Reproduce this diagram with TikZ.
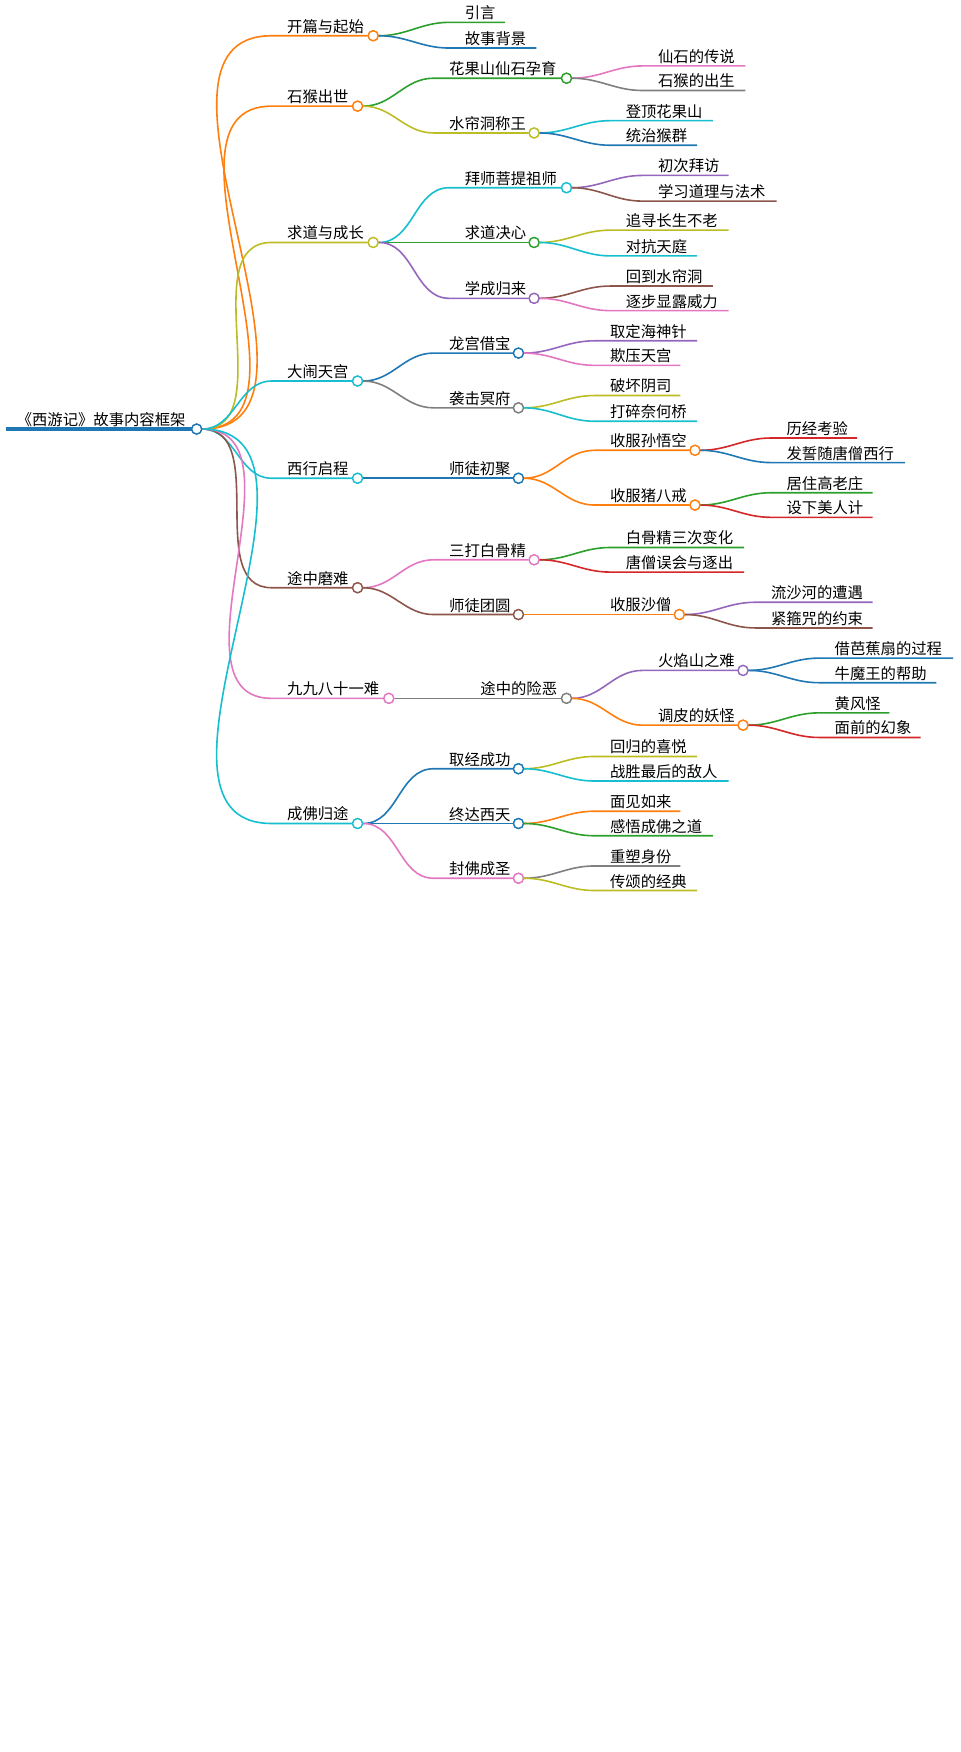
\documentclass[tikz,border=0pt]{standalone}
\usepackage{fontspec}
\setmainfont{Noto Sans CJK SC}
\definecolor{cOrange}{HTML}{FF7F0E}
\definecolor{cGreen}{HTML}{2CA02C}
\definecolor{cBlue}{HTML}{1F77B4}
\definecolor{cPink}{HTML}{E377C2}
\definecolor{cGray}{HTML}{7F7F7F}
\definecolor{cOlive}{HTML}{BCBD22}
\definecolor{cCyan}{HTML}{17BECF}
\definecolor{cPurple}{HTML}{9467BD}
\definecolor{cBrown}{HTML}{8C564B}
\definecolor{cRed}{HTML}{D62728}
\tikzset{
  mmlabel/.style = {anchor = south west, inner sep = 1.5pt, font = \fontsize{11.5}{13}\selectfont},
  mmedge/.style = {line width = 1.2pt},
  mmdot/.style = {circle, fill = white, line width = 1pt, minimum size = 7.5pt, inner sep = 0pt}
}
% #1 parent, #2 name, #3 colour, #4 text x, #5 y, #6 end x, #7 text
\newcommand{\mmleaf}[7]{%
  \coordinate (#2-s) at (#4-12, #5);
  \coordinate (#2) at (#6, #5);
  \node[mmlabel] (#2-t) at (#4, #5) {#7};
  \draw[mmedge, #3] (#1.east) to[out = 0, in = 180] (#2-s) -- (#2);
}
\newcommand{\mminner}[7]{%
  \coordinate (#2-s) at (#4-12, #5);
  \node[mmdot, draw = #3] (#2) at (#6, #5) {};
  \node[mmlabel] (#2-t) at (#4, #5) {#7};
  \draw[mmedge, #3] (#1.east) to[out = 0, in = 180] (#2-s) -- (#2.west);
  \node[mmdot, draw = #3] at (#2) {};
}
\begin{document}
\begin{tikzpicture}[x = 0.838pt, y = -0.838pt]
  \useasboundingbox (0, 0) rectangle (860, 1568);

  % root
  \draw[line width = 3pt, cBlue] (5, 384) -- (176, 384);
  \node[mmlabel] (root-t) at (13, 384) {《西游记》故事内容框架};
  \node[mmdot, draw = cBlue] (root) at (176, 384) {};

  % level 1
  \mminner{root}{a}{cOrange}{255}{32}{334}{开篇与起始}
  \mminner{root}{b}{cOrange}{255}{95}{320}{石猴出世}
  \mminner{root}{c}{cOlive}{255}{217}{334}{求道与成长}
  \mminner{root}{d}{cCyan}{255}{341}{320}{大闹天宫}
  \mminner{root}{e}{cCyan}{255}{428}{320}{西行启程}
  \mminner{root}{f}{cBrown}{255}{526}{320}{途中磨难}
  \mminner{root}{g}{cPink}{255}{625}{348}{九九八十一难}
  \mminner{root}{h}{cCyan}{255}{737}{320}{成佛归途}
  \node[mmdot, draw = cBlue] at (root) {};

  % 开篇与起始
  \mmleaf{a}{a1}{cGreen}{414}{20}{452}{引言}
  \mmleaf{a}{a2}{cBlue}{414}{43}{480}{故事背景}

  % 石猴出世
  \mminner{b}{b1}{cGreen}{400}{70}{507}{花果山仙石孕育}
  \mminner{b}{b2}{cOlive}{400}{119}{478}{水帘洞称王}
  \mmleaf{b1}{b11}{cPink}{587}{59}{667}{仙石的传说}
  \mmleaf{b1}{b12}{cGray}{587}{81}{667}{石猴的出生}
  \mmleaf{b2}{b21}{cCyan}{558}{108}{638}{登顶花果山}
  \mmleaf{b2}{b22}{cBlue}{558}{130}{624}{统治猴群}

  % 求道与成长
  \mminner{c}{c1}{cCyan}{414}{168}{507}{拜师菩提祖师}
  \mminner{c}{c2}{cGreen}{414}{217}{478}{求道决心}
  \mminner{c}{c3}{cPurple}{414}{267}{478}{学成归来}
  \mmleaf{c1}{c11}{cPurple}{587}{157}{652}{初次拜访}
  \mmleaf{c1}{c12}{cBrown}{587}{180}{695}{学习道理与法术}
  \mmleaf{c2}{c21}{cOlive}{558}{206}{652}{追寻长生不老}
  \mmleaf{c2}{c22}{cCyan}{558}{229}{624}{对抗天庭}
  \mmleaf{c3}{c31}{cBrown}{558}{256}{638}{回到水帘洞}
  \mmleaf{c3}{c32}{cPink}{558}{278}{652}{逐步显露威力}

  % 大闹天宫
  \mminner{d}{d1}{cBlue}{400}{316}{464}{龙宫借宝}
  \mminner{d}{d2}{cGray}{400}{365}{464}{袭击冥府}
  \mmleaf{d1}{d11}{cPurple}{544}{305}{624}{取定海神针}
  \mmleaf{d1}{d12}{cPink}{544}{327}{609}{欺压天宫}
  \mmleaf{d2}{d21}{cOlive}{544}{354}{609}{破坏阴司}
  \mmleaf{d2}{d22}{cCyan}{544}{377}{624}{打碎奈何桥}

  % 西行启程
  \mminner{e}{e1}{cBlue}{400}{428}{464}{师徒初聚}
  \mminner{e1}{e11}{cOrange}{544}{403}{622}{收服孙悟空}
  \mminner{e1}{e12}{cOrange}{544}{452}{622}{收服猪八戒}
  \mmleaf{e11}{e111}{cRed}{702}{392}{767}{历经考验}
  \mmleaf{e11}{e112}{cBlue}{702}{414}{810}{发誓随唐僧西行}
  \mmleaf{e12}{e121}{cGreen}{702}{441}{781}{居住高老庄}
  \mmleaf{e12}{e122}{cRed}{702}{463}{781}{设下美人计}

  % 途中磨难
  \mminner{f}{f1}{cPink}{400}{501}{478}{三打白骨精}
  \mminner{f}{f2}{cBrown}{400}{550}{464}{师徒团圆}
  \mmleaf{f1}{f11}{cGreen}{558}{490}{666}{白骨精三次变化}
  \mmleaf{f1}{f12}{cRed}{558}{512}{666}{唐僧误会与逐出}
  \mminner{f2}{f21}{cOrange}{544}{550}{608}{收服沙僧}
  \mmleaf{f21}{f211}{cPurple}{688}{539}{781}{流沙河的遭遇}
  \mmleaf{f21}{f212}{cBrown}{688}{562}{781}{紧箍咒的约束}

  % 九九八十一难
  \mminner{g}{g1}{cGray}{428}{625}{507}{途中的险恶}
  \mminner{g1}{g11}{cPurple}{587}{600}{665}{火焰山之难}
  \mminner{g1}{g12}{cOrange}{587}{649}{665}{调皮的妖怪}
  \mmleaf{g11}{g111}{cBlue}{745}{589}{853}{借芭蕉扇的过程}
  \mmleaf{g11}{g112}{cBlue}{745}{611}{838}{牛魔王的帮助}
  \mmleaf{g12}{g121}{cGreen}{745}{638}{796}{黄风怪}
  \mmleaf{g12}{g122}{cRed}{745}{660}{824}{面前的幻象}

  % 成佛归途
  \mminner{h}{h1}{cBlue}{400}{688}{464}{取经成功}
  \mminner{h}{h2}{cBlue}{400}{737}{464}{终达西天}
  \mminner{h}{h3}{cPink}{400}{786}{464}{封佛成圣}
  \mmleaf{h1}{h11}{cOlive}{544}{677}{624}{回归的喜悦}
  \mmleaf{h1}{h12}{cCyan}{544}{699}{652}{战胜最后的敌人}
  \mmleaf{h2}{h21}{cOrange}{544}{726}{609}{面见如来}
  \mmleaf{h2}{h22}{cGreen}{544}{748}{638}{感悟成佛之道}
  \mmleaf{h3}{h31}{cGray}{544}{775}{609}{重塑身份}
  \mmleaf{h3}{h32}{cOlive}{544}{797}{624}{传颂的经典}

\end{tikzpicture}
\end{document}
